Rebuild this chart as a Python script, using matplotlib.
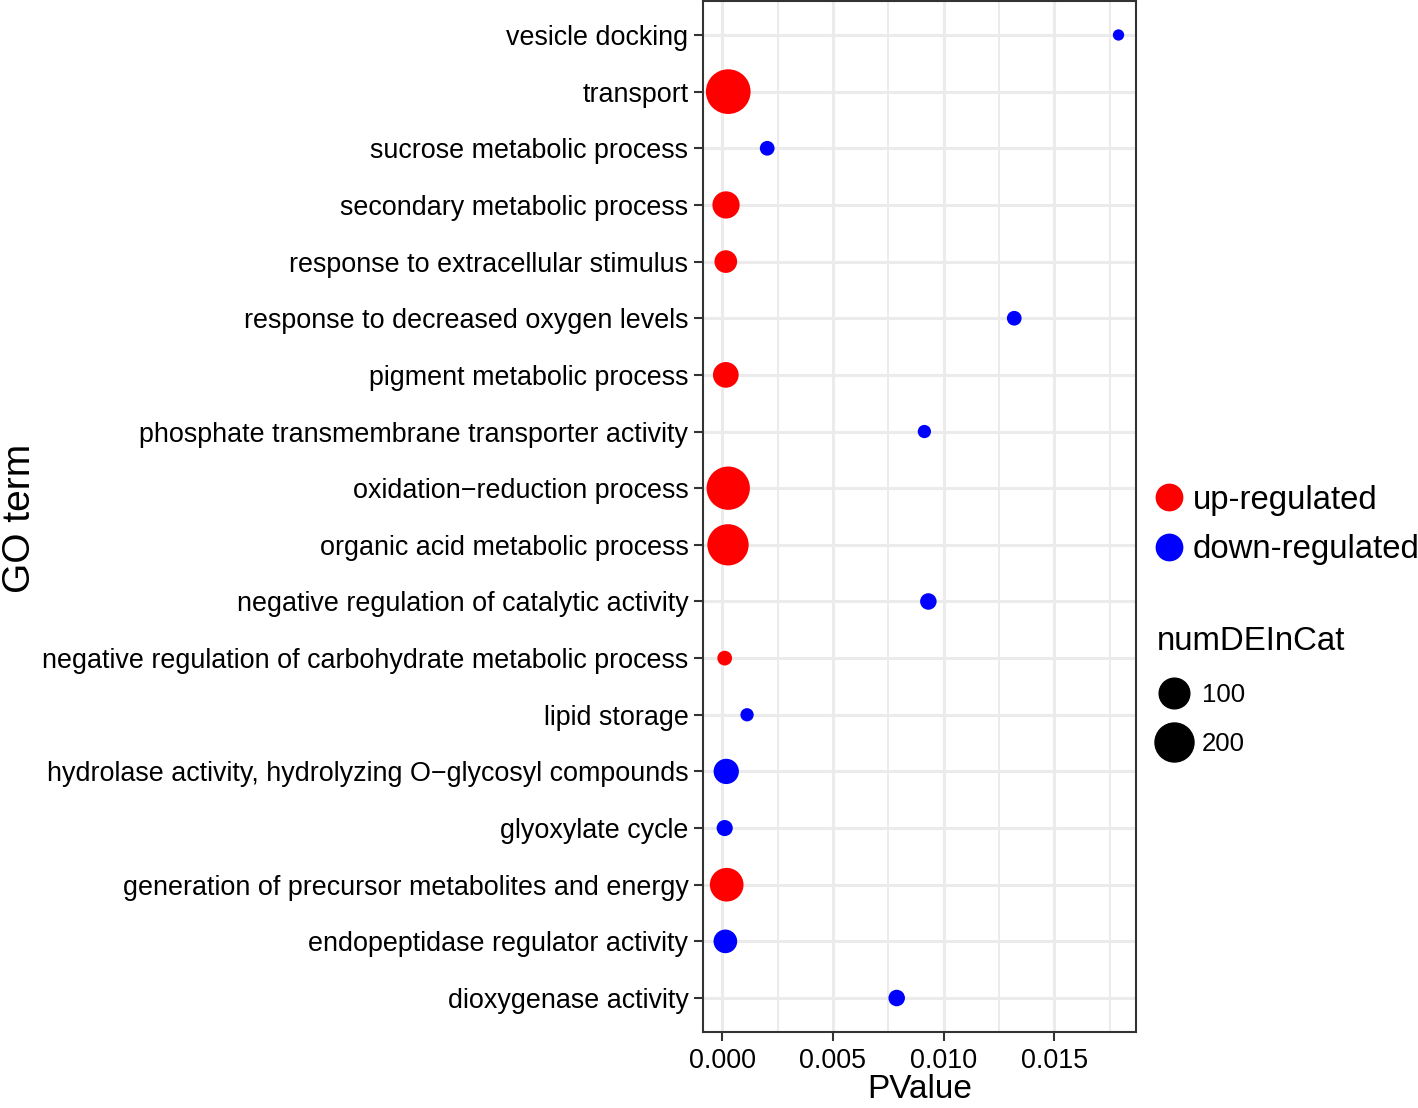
import numpy as np
import matplotlib
matplotlib.use("Agg")
import matplotlib.pyplot as plt
from matplotlib.lines import Line2D
from matplotlib.ticker import MultipleLocator

plt.rcParams['font.family'] = ['Liberation Sans', 'DejaVu Sans']

# ---- data (top to bottom as shown) ----
terms = [
    "vesicle docking",
    "transport",
    "sucrose metabolic process",
    "secondary metabolic process",
    "response to extracellular stimulus",
    "response to decreased oxygen levels",
    "pigment metabolic process",
    "phosphate transmembrane transporter activity",
    "oxidation\u2212reduction process",
    "organic acid metabolic process",
    "negative regulation of catalytic activity",
    "negative regulation of carbohydrate metabolic process",
    "lipid storage",
    "hydrolase activity, hydrolyzing O\u2212glycosyl compounds",
    "glyoxylate cycle",
    "generation of precursor metabolites and energy",
    "endopeptidase regulator activity",
    "dioxygenase activity",
]
pvalues = [0.0179, 0.00027, 0.00203, 0.00017, 0.00016, 0.01319, 0.00016, 0.00913,
           0.00027, 0.00026, 0.00931, 0.00011, 0.00112, 0.00018, 0.00011, 0.00020,
           0.00014, 0.00788]
num_de = [4, 289, 7, 69, 37, 7, 57, 5, 266, 234, 11, 7, 5, 54, 10, 132, 43, 11]
regulation = ["down", "up", "down", "up", "up", "down", "up", "down", "up", "up",
              "down", "up", "down", "down", "down", "up", "down", "down"]
size_breaks = [100, 200]
x_ticks = [0.000, 0.005, 0.010, 0.015]
x_ticklabels = ["0.000", "0.005", "0.010", "0.015"]

colors = {"up": "#FF0000", "down": "#0000FF"}
vmin, vmax = min(num_de), max(num_de)


def size_pts2(v):
    d_px = 11.3 + 33.4 * np.sqrt((np.asarray(v, float) - vmin) / (vmax - vmin))
    return (d_px * 0.72) ** 2


W, H = 1418, 1108
fig = plt.figure(figsize=(W / 100, H / 100), dpi=100)
ax = fig.add_axes([703 / W, 1 - 1032 / H, (1136 - 703) / W, (1032 - 1) / H])

n = len(terms)
ypos = np.arange(n, 0, -1)
ax.scatter(pvalues, ypos, s=size_pts2(num_de), c=[colors[r] for r in regulation],
           linewidths=0, zorder=3)

ax.set_ylim(0.4, n + 0.6)
ax.set_xlim(-0.00087, 0.01869)
ax.set_yticks(ypos)
ax.set_yticklabels(terms)
ax.set_xticks(x_ticks)
ax.set_xticklabels(x_ticklabels)
ax.xaxis.set_minor_locator(MultipleLocator(0.0025))

ax.set_axisbelow(True)
ax.grid(True, which='major', color='#EBEBEB', linewidth=2.2)
ax.grid(True, which='minor', axis='x', color='#EBEBEB', linewidth=1.4)
ax.tick_params(which='minor', length=0)
ax.tick_params(which='major', length=6.5, width=1.5, color='#333333',
               labelsize=19.4, labelcolor='black', pad=4)
ax.tick_params(axis='x', pad=5)
for sp in ax.spines.values():
    sp.set_color('#333333')
    sp.set_linewidth(1.5)

ax.set_xlabel("PValue", fontsize=24, labelpad=0)
fig.text(30 / W, 1 - 518 / H, "GO term", rotation=90, fontsize=28,
         ha='center', va='baseline', rotation_mode='anchor')

# colour legend
h_col = [Line2D([], [], marker='o', linestyle='', markersize=20,
                markerfacecolor=colors[k], markeredgewidth=0) for k in ["up", "down"]]
leg1 = fig.legend(h_col, ["up-regulated", "down-regulated"], loc='upper left',
                  bbox_to_anchor=(1152.5 / W, 1 - 485 / H), frameon=False,
                  fontsize=23.7, handlelength=1.0, handletextpad=0.23,
                  labelspacing=0.56, borderpad=0, borderaxespad=0)

# size legend
h_size = [Line2D([], [], marker='o', linestyle='', color='black',
                 markersize=float(np.sqrt(size_pts2(b)))) for b in size_breaks]
leg2 = fig.legend(h_size, [str(b) for b in size_breaks], loc='upper left',
                  bbox_to_anchor=(1157 / W, 1 - 626 / H), frameon=False,
                  fontsize=18.5, title="numDEInCat", title_fontsize=23.8,
                  handlelength=1.3, handletextpad=0.46, labelspacing=1.0,
                  borderpad=0, borderaxespad=0, alignment='left')

fig.savefig("out.png", dpi=100)
